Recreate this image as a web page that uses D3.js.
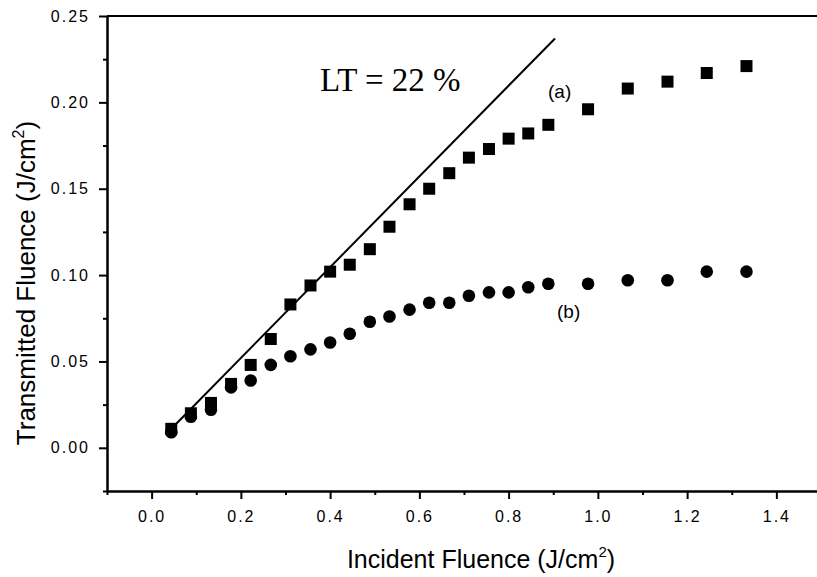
<!DOCTYPE html>
<html>
<head>
<meta charset="utf-8">
<script src="https://cdn.jsdelivr.net/npm/d3@7"></script>
<style>
  html, body { margin: 0; padding: 0; background: #fff; overflow: hidden; width: 817px; height: 577px; }
  svg { display: block; }
</style>
</head>
<body>
<svg id="chart" width="817" height="577"></svg>
<script>
// ---- data ----
const incident = [0.044, 0.088, 0.133, 0.178, 0.222, 0.267, 0.311, 0.356, 0.400, 0.444,
                  0.489, 0.533, 0.578, 0.622, 0.667, 0.711, 0.756, 0.800, 0.844, 0.889,
                  0.978, 1.067, 1.156, 1.244, 1.333];
const seriesA = [0.011, 0.020, 0.026, 0.037, 0.048, 0.063, 0.083, 0.094, 0.102, 0.106,
                 0.115, 0.128, 0.141, 0.150, 0.159, 0.168, 0.173, 0.179, 0.182, 0.187,
                 0.196, 0.208, 0.212, 0.217, 0.221];
const seriesB = [0.009, 0.018, 0.022, 0.035, 0.039, 0.048, 0.053, 0.057, 0.061, 0.066,
                 0.073, 0.076, 0.080, 0.084, 0.084, 0.088, 0.090, 0.090, 0.093, 0.095,
                 0.095, 0.097, 0.097, 0.102, 0.102];
const ltLineX = [0.042, 0.904];
const ltLineY = [0.0105, 0.237];
const xTicks = [0.0, 0.2, 0.4, 0.6, 0.8, 1.0, 1.2, 1.4];
const xMinorTicks = [-0.1, 0.1, 0.3, 0.5, 0.7, 0.9, 1.1, 1.3];
const yTicks = [0.00, 0.05, 0.10, 0.15, 0.20, 0.25];
const yMinorTicks = [-0.025, 0.025, 0.075, 0.125, 0.175, 0.225];
const xTickLabels = ["0.0", "0.2", "0.4", "0.6", "0.8", "1.0", "1.2", "1.4"];
const yTickLabels = ["0.00", "0.05", "0.10", "0.15", "0.20", "0.25"];

// ---- layout ----
const svg = d3.select("#chart");
const L = 107, R = 821, T = 16, B = 491;
const x = d3.scaleLinear().domain([-0.1, 1.5]).range([L, R]);
const y = d3.scaleLinear().domain([-0.025, 0.25]).range([B, T]);

svg.append("rect").attr("width", 817).attr("height", 577).attr("fill", "#fff");

const sans = "Arial, 'Liberation Sans', Helvetica, sans-serif";

// axes
const xAxis = svg.append("g").attr("transform", `translate(0,${B})`)
  .call(d3.axisBottom(x).tickValues(xTicks).tickSize(8).tickSizeOuter(0).tickPadding(12)
        .tickFormat((d, i) => xTickLabels[i]));
const xMinor = svg.append("g").attr("transform", `translate(0,${B})`)
  .call(d3.axisBottom(x).tickValues(xMinorTicks).tickSize(4).tickSizeOuter(0).tickFormat(""));
const yAxis = svg.append("g").attr("transform", `translate(${L},0)`)
  .call(d3.axisLeft(y).tickValues(yTicks).tickSize(8).tickSizeOuter(0).tickPadding(9)
        .tickFormat((d, i) => yTickLabels[i]));
const yMinor = svg.append("g").attr("transform", `translate(${L},0)`)
  .call(d3.axisLeft(y).tickValues(yMinorTicks).tickSize(4).tickSizeOuter(0).tickFormat(""));

[xAxis, xMinor, yAxis, yMinor].forEach(g => {
  g.select(".domain").attr("stroke", "#000").attr("stroke-width", 2);
  g.selectAll(".tick line").attr("stroke", "#000").attr("stroke-width", 2);
  g.selectAll(".tick text").attr("fill", "#000").attr("font-family", sans)
    .attr("font-size", 16).attr("letter-spacing", 2);
});
// top frame line
svg.append("line").attr("x1", L).attr("x2", R).attr("y1", T).attr("y2", T)
  .attr("stroke", "#000").attr("stroke-width", 2);

// LT line
svg.append("line")
  .attr("x1", x(ltLineX[0])).attr("y1", y(ltLineY[0]))
  .attr("x2", x(ltLineX[1])).attr("y2", y(ltLineY[1]))
  .attr("stroke", "#000").attr("stroke-width", 2);

// series a: squares
const sq = 12;
svg.append("g").selectAll("rect").data(incident).join("rect")
  .attr("x", (d) => x(d) - sq / 2)
  .attr("y", (d, i) => y(seriesA[i]) - sq / 2)
  .attr("width", sq).attr("height", sq).attr("fill", "#000");

// series b: circles
svg.append("g").selectAll("circle").data(incident).join("circle")
  .attr("cx", (d) => x(d))
  .attr("cy", (d, i) => y(seriesB[i]))
  .attr("r", 6.3).attr("fill", "#000");

// annotations
svg.append("text").attr("x", 320).attr("y", 91)
  .attr("font-family", "'Liberation Serif', 'Times New Roman', serif")
  .attr("font-size", 33).attr("fill", "#000").text("LT = 22 %");
svg.append("text").attr("x", 548).attr("y", 98)
  .attr("font-family", sans).attr("font-size", 19).attr("fill", "#000").text("(a)");
svg.append("text").attr("x", 557).attr("y", 318)
  .attr("font-family", sans).attr("font-size", 19).attr("fill", "#000").text("(b)");

// axis titles
const xt = svg.append("text").attr("x", 481).attr("y", 568)
  .attr("text-anchor", "middle").attr("font-family", sans).attr("font-size", 25)
  .attr("fill", "#000");
xt.append("tspan").text("Incident Fluence (J/cm");
xt.append("tspan").attr("font-size", 15).attr("dy", -11).text("2");
xt.append("tspan").attr("dy", 11).text(")");

const yt = svg.append("text").attr("transform", "translate(35,283) rotate(-90)")
  .attr("text-anchor", "middle").attr("font-family", sans).attr("font-size", 26)
  .attr("fill", "#000");
yt.append("tspan").text("Transmitted Fluence (J/cm");
yt.append("tspan").attr("font-size", 16).attr("dy", -11).text("2");
yt.append("tspan").attr("dy", 11).text(")");
</script>
</body>
</html>
